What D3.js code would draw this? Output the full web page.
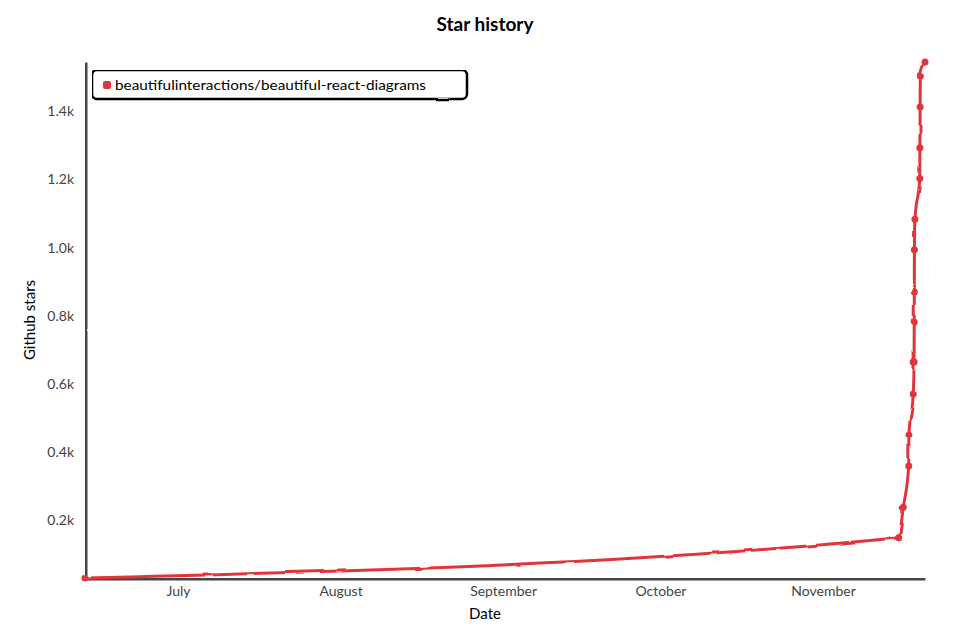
<!DOCTYPE html>
<html>
<head>
<meta charset="utf-8">
<script src="https://cdn.jsdelivr.net/npm/d3@7"></script>
<style>
  body { margin: 0; background: #fff; }
  svg { font-family: "Lato", "Noto Sans", sans-serif; }
</style>
</head>
<body>
<svg id="chart"></svg>
<script>
// star history of one repo
var repoName = "beautifulinteractions/beautiful-react-diagrams";
var starDates = [
  "2020-06-13T06:30", "2020-11-15T10:30", "2020-11-16T07:30", "2020-11-17T08:30",
  "2020-11-17T09:00", "2020-11-18T05:00", "2020-11-18T09:00", "2020-11-18T09:30",
  "2020-11-18T10:00", "2020-11-18T10:20", "2020-11-18T12:30", "2020-11-19T11:00",
  "2020-11-19T11:30", "2020-11-19T12:30", "2020-11-19T13:30", "2020-11-20T10:50"
];
var starCounts = [30, 148, 238, 359, 452, 570, 664, 781, 870, 994, 1083, 1203, 1293, 1413, 1504, 1545];
var monthTicks = ["2020-07-01", "2020-08-01", "2020-09-01", "2020-10-01", "2020-11-01"];
var starTicks = [200, 400, 600, 800, 1000, 1200, 1400];

var width = 966;
var height = 629;
var margin = {top: 62, right: 41, bottom: 51, left: 85};
var lineColor = "#e0363a";

var parseTime = d3.timeParse("%Y-%m-%dT%H:%M");
var parseDay = d3.timeParse("%Y-%m-%d");

var points = starDates.map(function (d, i) {
  return {date: parseTime(d), stars: starCounts[i]};
});

var svg = d3.select("#chart").attr("width", width).attr("height", height);

// hand drawn wobble, like chart.xkcd
function addWobble(id, scale) {
  var filter = svg.select("defs").append("filter")
    .attr("id", id)
    .attr("filterUnits", "userSpaceOnUse")
    .attr("x", 0).attr("y", 0).attr("width", width).attr("height", height);
  filter.append("feTurbulence")
    .attr("type", "fractalNoise")
    .attr("baseFrequency", 0.05)
    .attr("result", "noise");
  filter.append("feDisplacementMap")
    .attr("scale", scale)
    .attr("xChannelSelector", "R")
    .attr("yChannelSelector", "G")
    .attr("in", "SourceGraphic")
    .attr("in2", "noise");
}
svg.append("defs");
addWobble("wobble", 3);
addWobble("wobbleSoft", 2);

var x = d3.scaleTime()
  .domain(d3.extent(points, function (d) { return d.date; }))
  .range([margin.left, width - margin.right]);

var y = d3.scaleLinear()
  .domain(d3.extent(points, function (d) { return d.stars; }))
  .range([height - margin.bottom, margin.top]);

// title
svg.append("text")
  .attr("x", 485)
  .attr("y", 31)
  .attr("text-anchor", "middle")
  .style("font-size", "19px")
  .style("font-weight", "bold")
  .style("fill", "#000")
  .text("Star history");

// axes
var xAxis = svg.append("g")
  .attr("transform", "translate(0," + (height - margin.bottom) + ")")
  .call(d3.axisBottom(x)
    .tickValues(monthTicks.map(parseDay))
    .tickFormat(d3.timeFormat("%B"))
    .tickSize(0)
    .tickPadding(8));

var yAxis = svg.append("g")
  .attr("transform", "translate(" + margin.left + ",0)")
  .call(d3.axisLeft(y)
    .tickValues(starTicks)
    .tickFormat(function (d) { return (d / 1000).toFixed(1) + "k"; })
    .tickSize(0)
    .tickPadding(11));

[xAxis, yAxis].forEach(function (axis) {
  axis.select(".domain")
    .attr("stroke", "#444")
    .attr("stroke-width", 4)
    .attr("filter", "url(#wobbleSoft)");
  axis.selectAll("text")
    .style("font-size", "14px")
    .style("font-family", "Lato, 'Noto Sans', sans-serif")
    .style("fill", "#444");
});

// axis labels
svg.append("text")
  .attr("x", 485)
  .attr("y", 619)
  .attr("text-anchor", "middle")
  .style("font-size", "15px")
  .style("fill", "#000")
  .text("Date");

svg.append("text")
  .attr("transform", "translate(35," + ((margin.top + height - margin.bottom) / 2) + ") rotate(-90)")
  .attr("text-anchor", "middle")
  .style("font-size", "15px")
  .style("fill", "#000")
  .text("Github stars");

// the star line
var line = d3.line()
  .x(function (d) { return x(d.date); })
  .y(function (d) { return y(d.stars); })
  .curve(d3.curveMonotoneX);

var plot = svg.append("g").attr("filter", "url(#wobble)");

plot.append("path")
  .datum(points)
  .attr("fill", "none")
  .attr("stroke", lineColor)
  .attr("stroke-width", 3)
  .attr("stroke-linejoin", "round")
  .attr("d", line);

plot.selectAll("circle")
  .data(points)
  .enter()
  .append("circle")
  .attr("cx", function (d) { return x(d.date); })
  .attr("cy", function (d) { return y(d.stars); })
  .attr("r", 3.5)
  .attr("fill", lineColor);

// legend
var legend = svg.append("g").attr("transform", "translate(92,70)");

legend.append("rect")
  .attr("width", 375)
  .attr("height", 29)
  .attr("rx", 5)
  .attr("fill", "#fff")
  .attr("stroke", "#000")
  .attr("stroke-width", 2.5)
  .attr("filter", "url(#wobbleSoft)");

legend.append("rect")
  .attr("x", 11).attr("y", 11)
  .attr("width", 8).attr("height", 8)
  .attr("rx", 2)
  .attr("fill", lineColor);

legend.append("text")
  .attr("x", 23)
  .attr("y", 20)
  .attr("textLength", 311)
  .attr("lengthAdjust", "spacingAndGlyphs")
  .style("font-size", "14px")
  .style("fill", "#000")
  .text(repoName);
</script>
</body>
</html>
